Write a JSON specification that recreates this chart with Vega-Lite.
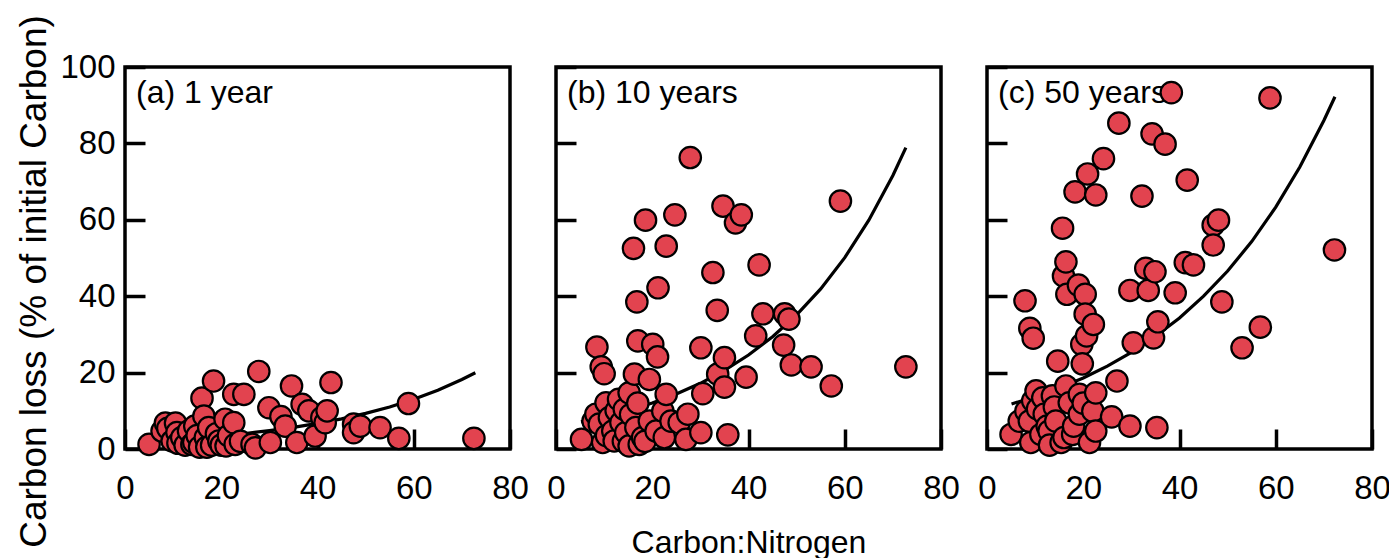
{
  "$schema": "https://vega.github.io/schema/vega-lite/v6.json",
  "padding": {"left": 14, "top": 12, "right": 0, "bottom": 0},
  "spacing": 46,
  "bounds": "flush",
  "datasets": {
    "points": [
      {"panel":"a","cn":5.0,"loss":1.2},{"panel":"a","cn":7.7,"loss":4.7},{"panel":"a","cn":8.4,"loss":6.8},{"panel":"a","cn":8.9,"loss":5.4},{"panel":"a","cn":9.8,"loss":2.1},{"panel":"a","cn":10.5,"loss":6.8},{"panel":"a","cn":10.8,"loss":4.3},{"panel":"a","cn":11.0,"loss":1.5},{"panel":"a","cn":11.8,"loss":3.0},{"panel":"a","cn":12.5,"loss":1.0},{"panel":"a","cn":13.2,"loss":4.7},{"panel":"a","cn":13.9,"loss":1.2},{"panel":"a","cn":14.3,"loss":1.7},{"panel":"a","cn":14.5,"loss":6.0},{"panel":"a","cn":15.0,"loss":3.5},{"panel":"a","cn":15.5,"loss":0.5},{"panel":"a","cn":16.0,"loss":13.3},{"panel":"a","cn":16.4,"loss":8.6},{"panel":"a","cn":16.7,"loss":3.0},{"panel":"a","cn":17.0,"loss":0.5},{"panel":"a","cn":17.4,"loss":5.6},{"panel":"a","cn":18.0,"loss":1.0},{"panel":"a","cn":18.4,"loss":17.8},{"panel":"a","cn":19.0,"loss":4.0},{"panel":"a","cn":19.5,"loss":2.1},{"panel":"a","cn":20.0,"loss":1.0},{"panel":"a","cn":20.8,"loss":7.8},{"panel":"a","cn":21.0,"loss":0.8},{"panel":"a","cn":21.5,"loss":3.5},{"panel":"a","cn":22.6,"loss":6.9},{"panel":"a","cn":22.9,"loss":1.2},{"panel":"a","cn":22.6,"loss":14.3},{"panel":"a","cn":24.0,"loss":2.0},{"panel":"a","cn":24.7,"loss":14.3},{"panel":"a","cn":26.4,"loss":1.2},{"panel":"a","cn":27.1,"loss":0.3},{"panel":"a","cn":27.8,"loss":20.3},{"panel":"a","cn":29.9,"loss":10.8},{"panel":"a","cn":30.2,"loss":1.7},{"panel":"a","cn":32.4,"loss":8.5},{"panel":"a","cn":33.3,"loss":6.0},{"panel":"a","cn":34.6,"loss":16.5},{"panel":"a","cn":35.7,"loss":1.7},{"panel":"a","cn":36.8,"loss":11.7},{"panel":"a","cn":38.2,"loss":10.0},{"panel":"a","cn":39.5,"loss":3.4},{"panel":"a","cn":40.9,"loss":8.2},{"panel":"a","cn":41.6,"loss":6.9},{"panel":"a","cn":42.0,"loss":10.0},{"panel":"a","cn":42.8,"loss":17.4},{"panel":"a","cn":47.5,"loss":6.5},{"panel":"a","cn":47.5,"loss":4.3},{"panel":"a","cn":48.9,"loss":6.0},{"panel":"a","cn":53.0,"loss":5.6},{"panel":"a","cn":56.9,"loss":2.8},{"panel":"a","cn":58.9,"loss":11.9},{"panel":"a","cn":72.5,"loss":2.8},
      {"panel":"b","cn":5.3,"loss":2.5},{"panel":"b","cn":7.7,"loss":7.3},{"panel":"b","cn":8.3,"loss":9.1},{"panel":"b","cn":8.5,"loss":26.7},{"panel":"b","cn":9.0,"loss":6.5},{"panel":"b","cn":9.4,"loss":21.5},{"panel":"b","cn":9.7,"loss":1.7},{"panel":"b","cn":10.0,"loss":19.7},{"panel":"b","cn":10.4,"loss":12.1},{"panel":"b","cn":10.5,"loss":3.5},{"panel":"b","cn":11.1,"loss":8.2},{"panel":"b","cn":11.8,"loss":4.7},{"panel":"b","cn":12.1,"loss":2.1},{"panel":"b","cn":12.5,"loss":10.0},{"panel":"b","cn":13.0,"loss":13.0},{"panel":"b","cn":13.5,"loss":6.9},{"panel":"b","cn":14.0,"loss":2.0},{"panel":"b","cn":14.2,"loss":10.4},{"panel":"b","cn":14.5,"loss":4.3},{"panel":"b","cn":15.2,"loss":14.7},{"panel":"b","cn":15.2,"loss":0.8},{"panel":"b","cn":15.5,"loss":9.0},{"panel":"b","cn":16.1,"loss":52.5},{"panel":"b","cn":16.3,"loss":19.6},{"panel":"b","cn":16.6,"loss":5.6},{"panel":"b","cn":16.8,"loss":38.5},{"panel":"b","cn":17.0,"loss":28.3},{"panel":"b","cn":17.0,"loss":12.0},{"panel":"b","cn":17.3,"loss":1.2},{"panel":"b","cn":18.0,"loss":3.0},{"panel":"b","cn":18.5,"loss":2.0},{"panel":"b","cn":18.6,"loss":59.9},{"panel":"b","cn":19.4,"loss":18.2},{"panel":"b","cn":19.4,"loss":7.3},{"panel":"b","cn":20.1,"loss":27.4},{"panel":"b","cn":20.8,"loss":4.7},{"panel":"b","cn":21.1,"loss":24.1},{"panel":"b","cn":21.2,"loss":42.2},{"panel":"b","cn":22.2,"loss":9.9},{"panel":"b","cn":22.5,"loss":3.0},{"panel":"b","cn":22.9,"loss":53.1},{"panel":"b","cn":22.9,"loss":14.3},{"panel":"b","cn":23.9,"loss":7.3},{"panel":"b","cn":24.7,"loss":61.3},{"panel":"b","cn":25.6,"loss":6.9},{"panel":"b","cn":27.0,"loss":2.5},{"panel":"b","cn":27.4,"loss":9.1},{"panel":"b","cn":27.9,"loss":76.3},{"panel":"b","cn":30.1,"loss":26.5},{"panel":"b","cn":30.1,"loss":4.3},{"panel":"b","cn":30.5,"loss":14.5},{"panel":"b","cn":32.6,"loss":46.2},{"panel":"b","cn":33.5,"loss":36.3},{"panel":"b","cn":33.6,"loss":19.6},{"panel":"b","cn":34.7,"loss":63.6},{"panel":"b","cn":35.0,"loss":23.9},{"panel":"b","cn":35.0,"loss":16.2},{"panel":"b","cn":35.7,"loss":3.7},{"panel":"b","cn":37.3,"loss":59.2},{"panel":"b","cn":38.5,"loss":61.3},{"panel":"b","cn":39.5,"loss":18.8},{"panel":"b","cn":41.5,"loss":29.6},{"panel":"b","cn":42.2,"loss":48.2},{"panel":"b","cn":43.0,"loss":35.4},{"panel":"b","cn":47.3,"loss":27.2},{"panel":"b","cn":47.5,"loss":35.4},{"panel":"b","cn":48.4,"loss":34.0},{"panel":"b","cn":48.9,"loss":22.0},{"panel":"b","cn":53.0,"loss":21.5},{"panel":"b","cn":57.2,"loss":16.5},{"panel":"b","cn":59.1,"loss":64.9},{"panel":"b","cn":72.7,"loss":21.5},
      {"panel":"c","cn":5.0,"loss":3.8},{"panel":"c","cn":6.7,"loss":7.3},{"panel":"c","cn":7.9,"loss":38.8},{"panel":"c","cn":8.1,"loss":9.9},{"panel":"c","cn":8.8,"loss":7.3},{"panel":"c","cn":8.9,"loss":31.6},{"panel":"c","cn":9.1,"loss":1.7},{"panel":"c","cn":9.5,"loss":12.6},{"panel":"c","cn":9.6,"loss":29.0},{"panel":"c","cn":10.2,"loss":15.2},{"panel":"c","cn":10.5,"loss":10.5},{"panel":"c","cn":11.2,"loss":3.8},{"panel":"c","cn":11.6,"loss":13.4},{"panel":"c","cn":11.9,"loss":9.1},{"panel":"c","cn":12.5,"loss":6.0},{"panel":"c","cn":12.9,"loss":4.7},{"panel":"c","cn":13.0,"loss":1.0},{"panel":"c","cn":13.6,"loss":13.9},{"panel":"c","cn":14.0,"loss":11.0},{"panel":"c","cn":14.3,"loss":7.3},{"panel":"c","cn":14.7,"loss":23.0},{"panel":"c","cn":15.4,"loss":1.7},{"panel":"c","cn":15.7,"loss":57.8},{"panel":"c","cn":15.9,"loss":45.3},{"panel":"c","cn":16.0,"loss":3.0},{"panel":"c","cn":16.4,"loss":16.5},{"panel":"c","cn":16.4,"loss":49.0},{"panel":"c","cn":16.6,"loss":40.5},{"panel":"c","cn":17.1,"loss":12.1},{"panel":"c","cn":17.8,"loss":3.8},{"panel":"c","cn":18.0,"loss":6.0},{"panel":"c","cn":18.3,"loss":67.3},{"panel":"c","cn":19.0,"loss":42.9},{"panel":"c","cn":19.2,"loss":14.3},{"panel":"c","cn":19.2,"loss":9.1},{"panel":"c","cn":19.7,"loss":27.4},{"panel":"c","cn":19.8,"loss":22.3},{"panel":"c","cn":20.0,"loss":12.0},{"panel":"c","cn":20.4,"loss":40.5},{"panel":"c","cn":20.4,"loss":35.3},{"panel":"c","cn":20.7,"loss":29.6},{"panel":"c","cn":20.9,"loss":72.0},{"panel":"c","cn":21.3,"loss":1.7},{"panel":"c","cn":22.0,"loss":9.9},{"panel":"c","cn":22.1,"loss":32.6},{"panel":"c","cn":22.6,"loss":66.5},{"panel":"c","cn":22.6,"loss":14.7},{"panel":"c","cn":22.6,"loss":4.7},{"panel":"c","cn":24.2,"loss":76.0},{"panel":"c","cn":25.9,"loss":8.4},{"panel":"c","cn":27.0,"loss":17.8},{"panel":"c","cn":27.4,"loss":85.3},{"panel":"c","cn":29.7,"loss":41.5},{"panel":"c","cn":29.7,"loss":6.0},{"panel":"c","cn":30.4,"loss":27.8},{"panel":"c","cn":32.2,"loss":66.2},{"panel":"c","cn":33.0,"loss":47.3},{"panel":"c","cn":33.5,"loss":41.5},{"panel":"c","cn":34.3,"loss":82.5},{"panel":"c","cn":34.6,"loss":29.1},{"panel":"c","cn":34.9,"loss":46.4},{"panel":"c","cn":35.3,"loss":5.6},{"panel":"c","cn":35.5,"loss":33.3},{"panel":"c","cn":37.0,"loss":79.8},{"panel":"c","cn":38.3,"loss":93.3},{"panel":"c","cn":39.1,"loss":40.9},{"panel":"c","cn":41.2,"loss":48.8},{"panel":"c","cn":41.6,"loss":70.4},{"panel":"c","cn":42.9,"loss":48.2},{"panel":"c","cn":47.0,"loss":58.6},{"panel":"c","cn":47.0,"loss":53.4},{"panel":"c","cn":48.1,"loss":59.9},{"panel":"c","cn":48.8,"loss":38.5},{"panel":"c","cn":53.0,"loss":26.5},{"panel":"c","cn":56.8,"loss":31.9},{"panel":"c","cn":58.8,"loss":91.9},{"panel":"c","cn":72.2,"loss":52.1}
    ],
    "curves": [
      {"panel":"a","cn":5.2,"loss":2.1},{"panel":"a","cn":10,"loss":2.46},{"panel":"a","cn":15,"loss":2.91},{"panel":"a","cn":20,"loss":3.44},{"panel":"a","cn":25,"loss":4.06},{"panel":"a","cn":30,"loss":4.8},{"panel":"a","cn":35,"loss":5.66},{"panel":"a","cn":40,"loss":6.69},{"panel":"a","cn":45,"loss":7.9},{"panel":"a","cn":50,"loss":9.33},{"panel":"a","cn":55,"loss":11.0},{"panel":"a","cn":60,"loss":13.0},{"panel":"a","cn":65,"loss":15.4},{"panel":"a","cn":70,"loss":18.2},{"panel":"a","cn":72.8,"loss":19.95},
      {"panel":"b","cn":5.2,"loss":7.1},{"panel":"b","cn":10,"loss":8.43},{"panel":"b","cn":15,"loss":10.07},{"panel":"b","cn":20,"loss":12.04},{"panel":"b","cn":25,"loss":14.39},{"panel":"b","cn":30,"loss":17.2},{"panel":"b","cn":35,"loss":20.6},{"panel":"b","cn":40,"loss":24.6},{"panel":"b","cn":45,"loss":29.4},{"panel":"b","cn":50,"loss":35.1},{"panel":"b","cn":55,"loss":41.9},{"panel":"b","cn":60,"loss":50.1},{"panel":"b","cn":65,"loss":59.9},{"panel":"b","cn":70,"loss":71.6},{"panel":"b","cn":72.7,"loss":78.9},
      {"panel":"c","cn":5.1,"loss":11.8},{"panel":"c","cn":10,"loss":13.7},{"panel":"c","cn":15,"loss":16.0},{"panel":"c","cn":20,"loss":18.6},{"panel":"c","cn":25,"loss":21.7},{"panel":"c","cn":30,"loss":25.3},{"panel":"c","cn":35,"loss":29.5},{"panel":"c","cn":40,"loss":34.3},{"panel":"c","cn":45,"loss":40.0},{"panel":"c","cn":50,"loss":46.6},{"panel":"c","cn":55,"loss":54.3},{"panel":"c","cn":60,"loss":63.3},{"panel":"c","cn":65,"loss":73.8},{"panel":"c","cn":70,"loss":86.0},{"panel":"c","cn":72.3,"loss":92.2}
    ],
    "labels": [
      {"panel":"a","label":"(a) 1 year","cn":2.3,"loss":93.3},
      {"panel":"b","label":"(b) 10 years","cn":2.3,"loss":93.3},
      {"panel":"c","label":"(c) 50 years","cn":2.3,"loss":93.3}
    ]
  },
  "hconcat": [
    {
      "width": 385, "height": 382,
      "layer": [
        {"data": {"name": "curves"}, "transform": [{"filter": "datum.panel === 'a'"}], "mark": {"type": "line", "color": "black", "strokeWidth": 3.2},
         "encoding": {"x": {"field": "cn", "type": "quantitative", "scale": {"domain": [0, 80], "nice": false}, "axis": {"values": [0,20,40,60,80], "title": null}},
                      "y": {"field": "loss", "type": "quantitative", "scale": {"domain": [0, 100], "nice": false}, "axis": {"values": [0,20,40,60,80,100], "title": "Carbon loss (% of initial Carbon)", "titleFontSize": 37, "titleY": 214, "titlePadding": 6}}}},
        {"data": {"name": "points"}, "transform": [{"filter": "datum.panel === 'a'"}], "mark": {"type": "circle", "size": 460, "fill": "#E2434F", "stroke": "black", "strokeWidth": 2.2, "opacity": 1},
         "encoding": {"x": {"field": "cn", "type": "quantitative"}, "y": {"field": "loss", "type": "quantitative"}}},
        {"data": {"name": "labels"}, "transform": [{"filter": "datum.panel === 'a'"}], "mark": {"type": "text", "align": "left", "baseline": "middle", "fontSize": 32, "font": "Liberation Sans", "color": "black"},
         "encoding": {"x": {"field": "cn", "type": "quantitative"}, "y": {"field": "loss", "type": "quantitative"}, "text": {"field": "label"}}}
      ]
    },
    {
      "width": 385, "height": 382,
      "layer": [
        {"data": {"name": "curves"}, "transform": [{"filter": "datum.panel === 'b'"}], "mark": {"type": "line", "color": "black", "strokeWidth": 3.2},
         "encoding": {"x": {"field": "cn", "type": "quantitative", "scale": {"domain": [0, 80], "nice": false}, "axis": {"values": [0,20,40,60,80], "title": "Carbon:Nitrogen", "titlePadding": 22}},
                      "y": {"field": "loss", "type": "quantitative", "scale": {"domain": [0, 100], "nice": false}, "axis": {"values": [0,20,40,60,80,100], "title": null, "labels": false}}}},
        {"data": {"name": "points"}, "transform": [{"filter": "datum.panel === 'b'"}], "mark": {"type": "circle", "size": 460, "fill": "#E2434F", "stroke": "black", "strokeWidth": 2.2, "opacity": 1},
         "encoding": {"x": {"field": "cn", "type": "quantitative"}, "y": {"field": "loss", "type": "quantitative"}}},
        {"data": {"name": "labels"}, "transform": [{"filter": "datum.panel === 'b'"}], "mark": {"type": "text", "align": "left", "baseline": "middle", "fontSize": 32, "font": "Liberation Sans", "color": "black"},
         "encoding": {"x": {"field": "cn", "type": "quantitative"}, "y": {"field": "loss", "type": "quantitative"}, "text": {"field": "label"}}}
      ]
    },
    {
      "width": 385, "height": 382,
      "layer": [
        {"data": {"name": "curves"}, "transform": [{"filter": "datum.panel === 'c'"}], "mark": {"type": "line", "color": "black", "strokeWidth": 3.2},
         "encoding": {"x": {"field": "cn", "type": "quantitative", "scale": {"domain": [0, 80], "nice": false}, "axis": {"values": [0,20,40,60,80], "title": null}},
                      "y": {"field": "loss", "type": "quantitative", "scale": {"domain": [0, 100], "nice": false}, "axis": {"values": [0,20,40,60,80,100], "title": null, "labels": false}}}},
        {"data": {"name": "labels"}, "transform": [{"filter": "datum.panel === 'c'"}], "mark": {"type": "text", "align": "left", "baseline": "middle", "fontSize": 32, "font": "Liberation Sans", "color": "black"},
         "encoding": {"x": {"field": "cn", "type": "quantitative"}, "y": {"field": "loss", "type": "quantitative"}, "text": {"field": "label"}}},
        {"data": {"name": "points"}, "transform": [{"filter": "datum.panel === 'c'"}], "mark": {"type": "circle", "size": 460, "fill": "#E2434F", "stroke": "black", "strokeWidth": 2.2, "opacity": 1},
         "encoding": {"x": {"field": "cn", "type": "quantitative"}, "y": {"field": "loss", "type": "quantitative"}}}
      ]
    }
  ],
  "config": {
    "font": "Liberation Sans",
    "view": {"stroke": "black", "strokeWidth": 3.5},
    "axis": {"domain": false, "grid": false, "tickColor": "black", "tickWidth": 3.5, "tickSize": -20, "labelFontSize": 33, "labelColor": "black", "labelFlush": false, "labelOverlap": false, "titleFontSize": 32, "titleFontWeight": "normal", "titleColor": "black", "labelFont": "Liberation Sans", "titleFont": "Liberation Sans"},
    "axisX": {"labelPadding": 43},
    "axisY": {"labelPadding": 30}
  }
}
